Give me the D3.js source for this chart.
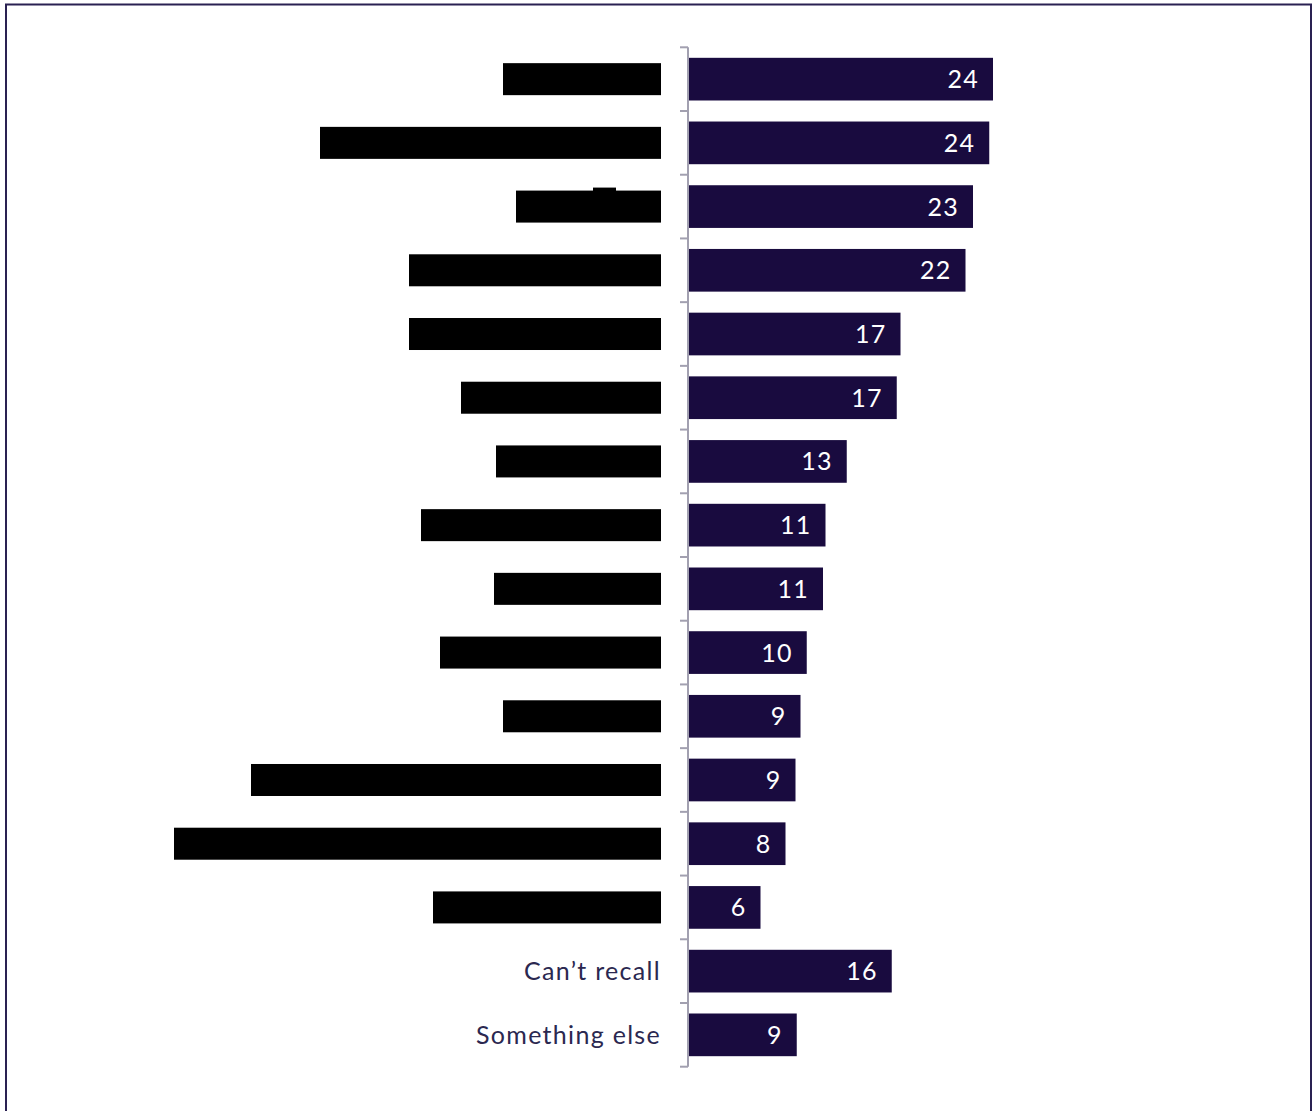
<!DOCTYPE html>
<html>
<head>
<meta charset="utf-8">
<script src="https://cdn.jsdelivr.net/npm/d3@7"></script>
<style>
  html, body { margin: 0; padding: 0; background: #ffffff; }
  svg { display: block; }
  .lbl { font-family: Lato, 'Open Sans', sans-serif; font-weight: 400; font-size: 25px; letter-spacing: 1.3px; }
</style>
</head>
<body>
<script>
// Response categories (null = label withheld and shown as a blacked-out block)
const categories = [
  null, null, null, null, null, null, null, null,
  null, null, null, null, null, null,
  "Can\u2019t recall", "Something else"
];
const categoryIds = d3.range(categories.length).map(i => "c" + i);

// Share of respondents (%)
const values = [24.4, 24.1, 22.8, 22.2, 17.0, 16.7, 12.7, 11.0, 10.8, 9.5, 9.0, 8.6, 7.8, 5.8, 16.3, 8.7];

// Widths of the blacked-out label blocks, per category
const redactionWidths = [158, 341, 145, 252, 252, 200, 165, 240, 167, 221, 158, 410, 487, 228, 0, 0];

const W = 1313, H = 1111;
const svg = d3.select("body").append("svg").attr("width", W).attr("height", H);

// outer frame
svg.append("rect")
  .attr("x", 6).attr("y", 4.5).attr("width", 1305).attr("height", 1200)
  .attr("fill", "none").attr("stroke", "#2a2152").attr("stroke-width", 2);

const axisX = 688;
const y = d3.scaleBand()
  .domain(categoryIds)
  .range([47.3, 1066.7])
  .paddingInner(0.33)
  .paddingOuter(0.165);

const x = d3.scaleLinear().domain([0, 40]).range([axisX, axisX + 500]);

const barColor = "#190b3f";
const textColor = "#2b2850";
const fmt = d3.format(".0f");

// bars
svg.append("g").selectAll("rect")
  .data(values)
  .join("rect")
  .attr("x", x(0))
  .attr("y", (d, i) => y(categoryIds[i]))
  .attr("width", d => x(d) - x(0))
  .attr("height", y.bandwidth())
  .attr("fill", barColor);

// value labels inside bar ends
svg.append("g").selectAll("text")
  .data(values)
  .join("text")
  .attr("class", "lbl")
  .attr("x", d => x(d) - 14)
  .attr("y", (d, i) => y(categoryIds[i]) + y.bandwidth() / 2)
  .attr("dy", "0.36em")
  .attr("text-anchor", "end")
  .attr("fill", "#ffffff")
  .text(d => fmt(d));

// category axis: vertical line with ticks between bands
const step = y.step();
const axisTop = y.range()[0];
const axisBottom = y.range()[1];
const axisG = svg.append("g").attr("stroke", "#a2a0b0").attr("stroke-width", 2);
axisG.append("line")
  .attr("x1", axisX).attr("x2", axisX).attr("y1", axisTop).attr("y2", axisBottom);
axisG.selectAll("line.tick")
  .data(d3.range(categories.length + 1))
  .join("line")
  .attr("class", "tick")
  .attr("x1", axisX - 8).attr("x2", axisX)
  .attr("y1", i => axisTop + i * step).attr("y2", i => axisTop + i * step);

// category labels
const labelRight = 661;
const labelG = svg.append("g");
categories.forEach((c, i) => {
  const cy = y(categoryIds[i]) + y.bandwidth() / 2;
  if (c === null) {
    labelG.append("rect")
      .attr("x", labelRight - redactionWidths[i])
      .attr("y", cy - 16)
      .attr("width", redactionWidths[i])
      .attr("height", 32)
      .attr("fill", "#000000");
    if (i === 2) {
      labelG.append("rect")
        .attr("x", 593).attr("y", cy - 19)
        .attr("width", 23).attr("height", 4)
        .attr("fill", "#000000");
    }
  } else {
    labelG.append("text")
      .attr("class", "lbl")
      .attr("x", labelRight)
      .attr("y", cy)
      .attr("dy", "0.36em")
      .attr("text-anchor", "end")
      .attr("fill", textColor)
      .text(c);
  }
});
</script>
</body>
</html>
